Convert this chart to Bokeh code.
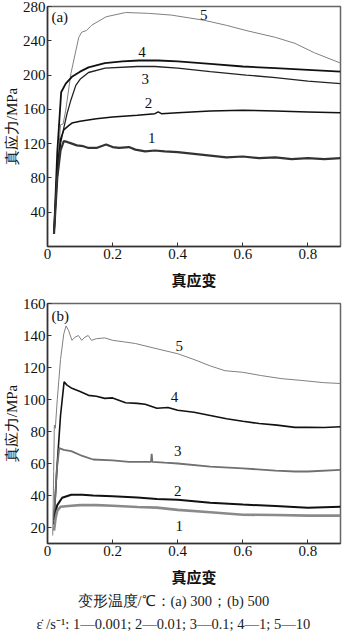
from bokeh.plotting import figure
from bokeh.layouts import column
from bokeh.models import Title, FixedTicker, Range1d
from bokeh.core.properties import value
from bokeh.embed import file_html
from bokeh.resources import INLINE

SERIF = "Liberation Serif"
CJK = "Noto Sans CJK SC"

# ---------------- data: panel (a) 300 C ----------------
a5_x = [0.02, 0.03, 0.04, 0.048, 0.056, 0.072, 0.096, 0.105, 0.12, 0.135, 0.18, 0.24, 0.31, 0.38, 0.48, 0.55, 0.61, 0.7, 0.76, 0.82, 0.9]
a5_y = [15, 86, 142, 143, 159, 202, 244, 250, 252, 258, 268, 273, 272, 270, 264, 258, 252, 244, 237, 226, 214]
a4_x = [0.02, 0.03, 0.042, 0.056, 0.075, 0.1, 0.126, 0.176, 0.23, 0.28, 0.34, 0.4, 0.5, 0.6, 0.7, 0.8, 0.9]
a4_y = [15, 110, 180, 190, 198, 204, 209, 214, 216, 217, 217, 216, 213, 210, 208, 206, 204]
a3_x = [0.02, 0.03, 0.04, 0.05, 0.06, 0.072, 0.087, 0.1, 0.126, 0.177, 0.276, 0.33, 0.4, 0.5, 0.61, 0.7, 0.8, 0.9]
a3_y = [15, 80, 120, 138, 155, 171, 188, 195, 203, 208, 210, 210, 208, 204, 200, 197, 193, 190]
a2_x = [0.02, 0.03, 0.04, 0.05, 0.065, 0.075, 0.1, 0.15, 0.2, 0.276, 0.33, 0.34, 0.35, 0.4, 0.5, 0.6, 0.7, 0.8, 0.9]
a2_y = [15, 90, 125, 136, 141, 144, 146, 149, 151, 153, 155, 157, 155, 156, 158, 159, 158, 157, 156]
a1_x = [0.02, 0.03, 0.04, 0.05, 0.06, 0.075, 0.09, 0.11, 0.126, 0.15, 0.165, 0.18, 0.2, 0.22, 0.25, 0.27, 0.3, 0.33, 0.36, 0.4, 0.45, 0.5, 0.55, 0.6, 0.65, 0.7, 0.75, 0.8, 0.85, 0.9]
a1_y = [15, 80, 112, 123, 122, 120, 118, 117, 115, 115, 117, 119, 116, 115, 116, 113, 111, 112, 111, 110, 108, 106, 104, 105, 103, 104, 102, 103, 102, 103]

# ---------------- data: panel (b) 500 C ----------------
b5_x = [0.016, 0.019, 0.021, 0.024, 0.03, 0.04, 0.05, 0.057, 0.065, 0.075, 0.085, 0.095, 0.105, 0.115, 0.125, 0.135, 0.15, 0.176, 0.2, 0.236, 0.27, 0.33, 0.4, 0.45, 0.5, 0.545, 0.6, 0.655, 0.72, 0.776, 0.85, 0.9]
b5_y = [15, 55, 84, 82, 100, 125, 141, 146, 143, 137, 139, 140, 137, 139, 140, 137, 138, 138.5, 137, 136, 135, 132, 128.6, 125, 121, 118, 117, 115, 113, 112, 110.5, 110]
b4_x = [0.02, 0.03, 0.04, 0.051, 0.06, 0.075, 0.1, 0.126, 0.15, 0.176, 0.2, 0.24, 0.276, 0.3, 0.336, 0.37, 0.4, 0.45, 0.5, 0.55, 0.6, 0.65, 0.705, 0.76, 0.8, 0.85, 0.9]
b4_y = [25, 60, 90, 111, 109, 107, 105, 102.6, 102, 100.7, 101, 98, 97.6, 97, 94.5, 95, 93.3, 92, 90, 88, 86.4, 85, 84, 82.6, 82.6, 82.5, 83]
b3_x = [0.02, 0.028, 0.036, 0.05, 0.073, 0.107, 0.14, 0.2, 0.25, 0.3, 0.318, 0.32, 0.322, 0.36, 0.4, 0.5, 0.6, 0.7, 0.76, 0.8, 0.9]
b3_y = [25, 55, 69.6, 68.5, 67.7, 64.7, 62.5, 62, 61, 61, 61, 66, 61, 60.5, 60, 58, 57, 55.5, 55, 55, 56]
b2_x = [0.02, 0.025, 0.03, 0.045, 0.073, 0.107, 0.14, 0.2, 0.276, 0.336, 0.4, 0.5, 0.6, 0.7, 0.8, 0.9]
b2_y = [22, 30, 34, 38.6, 40.5, 40.5, 40, 39.5, 38.7, 37.8, 37.4, 35.5, 34.3, 33.5, 32.4, 33]
b1_x = [0.02, 0.025, 0.03, 0.04, 0.073, 0.1, 0.15, 0.2, 0.276, 0.336, 0.4, 0.5, 0.6, 0.7, 0.8, 0.9]
b1_y = [18, 26, 30.5, 33, 33.6, 34, 34, 33.6, 32.8, 32.4, 31, 29.5, 28, 27.8, 27.4, 27.4]

# curve number labels
a_lab_x = [0.48, 0.29, 0.30, 0.31, 0.32]
a_lab_y = [270, 227, 196, 167, 127]
b_lab_x = [0.405, 0.39, 0.40, 0.40, 0.405]
b_lab_y = [133.6, 101.3, 67.8, 43, 21]
lab_text = ["5", "4", "3", "2", "1"]

x_ticks = [0, 0.2, 0.4, 0.6, 0.8]
a_y_ticks = [40, 80, 120, 160, 200, 240, 280]
b_y_ticks = [20, 40, 60, 80, 100, 120, 140, 160]

caption1 = "变形温度/℃：(a) 300；(b) 500"
caption2 = "ε̇ /s⁻¹: 1—0.001; 2—0.01; 3—0.1; 4—1; 5—10"


def make_fig(height, ymin, ymax, yticks, top_b, bottom_b):
    p = figure(width=342, height=height, x_range=Range1d(0, 0.9), y_range=Range1d(ymin, ymax),
               output_backend="svg", toolbar_location=None,
               min_border_left=40, min_border_right=2, min_border_top=top_b, min_border_bottom=bottom_b)
    p.grid.visible = False
    p.outline_line_color = "#666666"
    p.outline_line_width = 1.5
    for ax in (p.xaxis[0], p.yaxis[0]):
        ax.major_tick_in = 4
        ax.major_tick_out = 0
        ax.minor_tick_line_color = None
        ax.axis_line_color = "#333333"
        ax.axis_line_width = 1.5
        ax.major_tick_line_color = "#333333"
        ax.major_label_text_font = SERIF
        ax.major_label_text_font_size = "15px"
        ax.major_label_text_color = "#111111"
        ax.major_label_standoff = 2
        ax.axis_label_text_color = "#111111"
    p.xaxis.ticker = FixedTicker(ticks=x_ticks)
    p.xaxis.major_label_overrides = {t: ("0" if t == 0 else str(t)) for t in x_ticks}
    p.yaxis.ticker = FixedTicker(ticks=yticks)
    p.yaxis.axis_label = "真应力/MPa"
    p.yaxis.axis_label_text_font = SERIF
    p.yaxis.axis_label_text_font_style = "normal"
    p.yaxis.axis_label_text_font_size = "15px"
    p.yaxis.axis_label_standoff = 0
    p.xaxis.axis_label = "真应变"
    p.xaxis.axis_label_text_font = CJK
    p.xaxis.axis_label_text_font_style = "bold"
    p.xaxis.axis_label_text_font_size = "15px"
    p.xaxis.axis_label_standoff = 7
    return p


pa = make_fig(295, 0, 280, a_y_ticks, 6, 49)
pa.line(a5_x, a5_y, line_color="#808080", line_width=1)
pa.line(a4_x, a4_y, line_color="#111111", line_width=1.8)
pa.line(a3_x, a3_y, line_color="#222222", line_width=1.3)
pa.line(a2_x, a2_y, line_color="#111111", line_width=1.5)
pa.line(a1_x, a1_y, line_color="#333333", line_width=2.2)
pa.text(x=a_lab_x, y=a_lab_y, text=lab_text, text_font=value(SERIF), text_font_size="15px",
        text_align="center", text_baseline="middle", text_color="#111111")
pa.text(x=[0.012], y=[277], text=["(a)"], text_font=value(SERIF), text_font_size="15px",
        text_align="left", text_baseline="top", text_color="#111111")

pb = make_fig(339, 10, 160, b_y_ticks, 8, 90)
pb.line(b5_x, b5_y, line_color="#808080", line_width=1)
pb.line(b4_x, b4_y, line_color="#111111", line_width=1.6)
pb.line(b3_x, b3_y, line_color="#707070", line_width=1.8)
pb.line(b2_x, b2_y, line_color="#111111", line_width=2)
pb.line(b1_x, b1_y, line_color="#8a8a8a", line_width=2.6)
pb.text(x=b_lab_x, y=b_lab_y, text=lab_text, text_font=value(SERIF), text_font_size="15px",
        text_align="center", text_baseline="middle", text_color="#111111")
pb.text(x=[0.012], y=[157.5], text=["(b)"], text_font=value(SERIF), text_font_size="15px",
        text_align="left", text_baseline="top", text_color="#111111")

t1 = Title(text=caption1, align="left", offset=30, standoff=3, text_font=SERIF,
           text_font_size="14.5px", text_font_style="normal", text_color="#222222")
t2 = Title(text=caption2, align="left", offset=-11, standoff=6, text_font=SERIF,
           text_font_size="14.5px", text_font_style="normal", text_color="#222222")
pb.add_layout(t1, "below")
pb.add_layout(t2, "below")

layout = column(pa, pb, spacing=0)
open("out.html", "w").write(file_html(layout, INLINE))
